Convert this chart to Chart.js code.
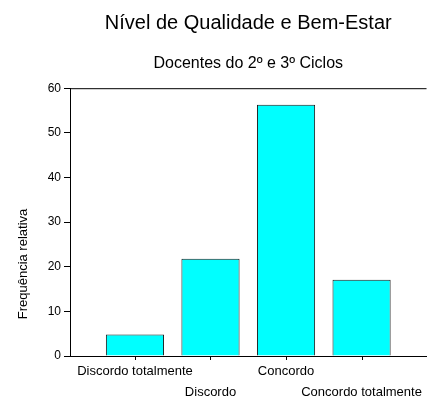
<!DOCTYPE html>
<html>
<head>
<meta charset="utf-8">
<script src="https://cdn.jsdelivr.net/npm/chart.js@4/dist/chart.umd.min.js"></script>
<style>
  html, body { margin: 0; padding: 0; background: #fff; }
  #wrap { width: 427px; height: 399px; }
</style>
</head>
<body>
<div id="wrap"><canvas id="c" width="427" height="399"></canvas></div>
<script>
// Response categories and relative frequencies (%)
const categories = ['Discordo totalmente', 'Discordo', 'Concordo', 'Concordo totalmente'];
const frequencies = [4.8, 21.8, 56.3, 17.1];
const yTicks = [0, 10, 20, 30, 40, 50, 60];

const titleText = 'Nível de Qualidade e Bem-Estar';
const subtitleText = 'Docentes do 2º e 3º Ciclos';
const yAxisTitle = 'Frequência relativa';

const FONT = "'Liberation Sans', Arial, Helvetica, sans-serif";
Chart.defaults.font.family = FONT;
Chart.defaults.color = '#000';

// Top frame line, category tick marks and the vertical y-axis title
const framePlugin = {
  id: 'frame',
  afterDraw(chart) {
    const { ctx, chartArea } = chart;
    const xScale = chart.scales.x;
    ctx.save();
    ctx.strokeStyle = '#000';
    ctx.lineWidth = 1;
    ctx.beginPath();
    ctx.moveTo(chartArea.left, chartArea.top + 0.5);
    ctx.lineTo(chartArea.right, chartArea.top + 0.5);
    categories.forEach((_, i) => {
      const px = Math.round(xScale.getPixelForValue(i)) + 0.5;
      ctx.moveTo(px, chartArea.bottom);
      ctx.lineTo(px, chartArea.bottom + 4);
    });
    ctx.stroke();

    ctx.font = '13px ' + FONT;
    ctx.fillStyle = '#000';
    ctx.textAlign = 'center';
    ctx.textBaseline = 'middle';
    ctx.translate(chartArea.left - 47, chartArea.bottom - 92);
    ctx.rotate(-Math.PI / 2);
    ctx.fillText(yAxisTitle, 0, 0);
    ctx.restore();
  }
};

new Chart(document.getElementById('c'), {
  type: 'bar',
  data: {
    datasets: [{
      data: frequencies.map((v, i) => ({ x: i, y: v })),
      backgroundColor: '#00FFFF',
      borderColor: '#1a1a1a',
      borderWidth: 1,
      categoryPercentage: 1,
      barPercentage: 0.77
    }]
  },
  options: {
    responsive: false,
    devicePixelRatio: 1,
    animation: false,
    layout: { padding: 0 },
    plugins: {
      legend: { display: false },
      tooltip: { enabled: false },
      title: {
        display: true,
        text: titleText,
        fullSize: false,
        font: { size: 20, weight: 'normal' },
        padding: { top: 11, bottom: 0 }
      },
      subtitle: {
        display: true,
        text: subtitleText,
        fullSize: false,
        font: { size: 16, weight: 'normal' },
        padding: { top: 19, bottom: 15 }
      }
    },
    scales: {
      x: {
        type: 'linear',
        min: -0.86,
        max: 3.86,
        offset: false,
        afterBuildTicks(scale) {
          scale.ticks = categories.map((_, i) => ({ value: i }));
        },
        afterFit(scale) { scale.height = 43; },
        grid: { offset: false, drawOnChartArea: false, drawTicks: false },
        border: { display: true, color: '#000', width: 1 },
        ticks: {
          autoSkip: false,
          maxRotation: 0,
          padding: 5,
          font: { size: 13, lineHeight: 21 / 13 },
          callback(value) {
            const label = categories[Math.round(value)];
            return Math.round(value) % 2 === 0 ? [label, ''] : ['', label];
          }
        }
      },
      y: {
        min: 0,
        max: 60,
        afterBuildTicks(scale) {
          scale.ticks = yTicks.map(v => ({ value: v }));
        },
        afterFit(scale) { scale.width = 70; },
        grid: { drawOnChartArea: false, drawTicks: true, tickLength: 6, color: '#000' },
        border: { display: true, color: '#000', width: 1 },
        ticks: { padding: 3, font: { size: 12 } }
      }
    }
  },
  plugins: [framePlugin]
});
</script>
</body>
</html>
